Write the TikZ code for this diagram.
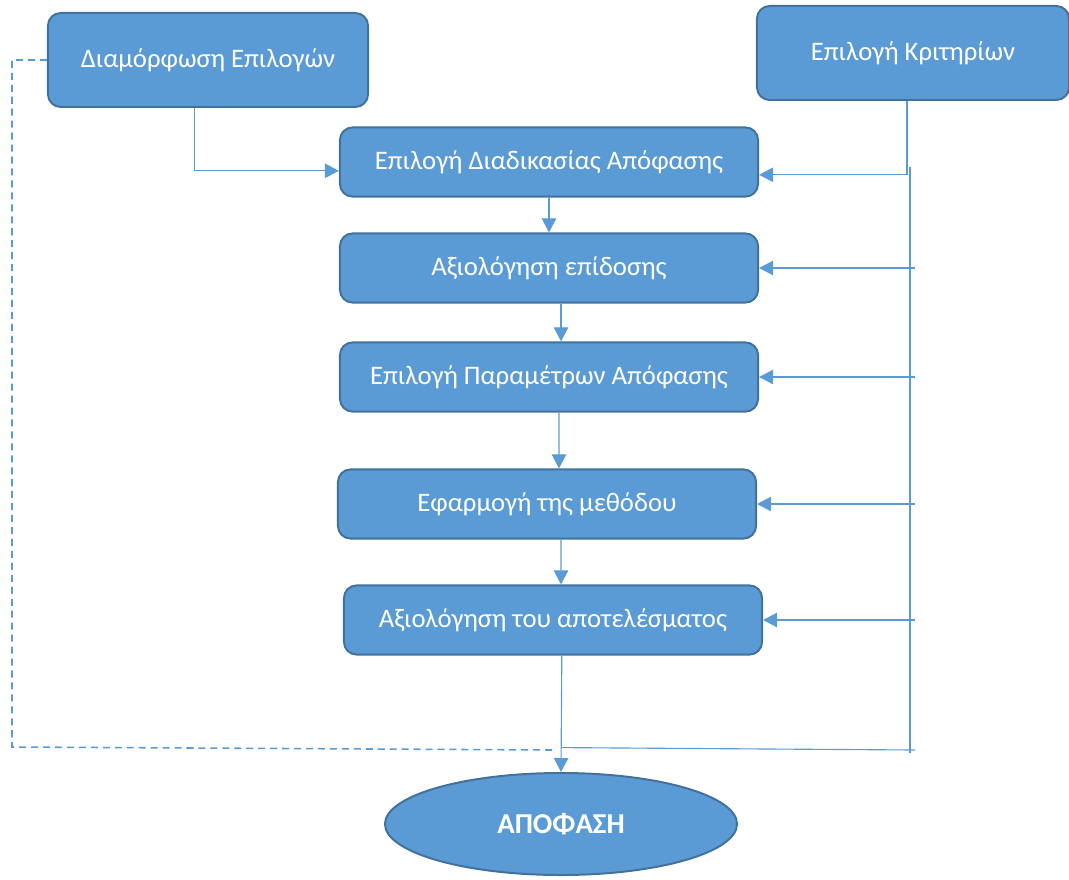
\documentclass[tikz,border=0pt]{standalone}
\usepackage{fontspec}
\setmainfont{Carlito}
\usetikzlibrary{arrows.meta,positioning,shapes.geometric}
\definecolor{office}{HTML}{5B9BD5}
\definecolor{officedark}{HTML}{41719C}
\tikzset{
  box/.style={draw=officedark,fill=office,line width=1.4pt,rounded corners=9pt,text=white,align=center,font=\fontsize{19}{23}\selectfont,inner sep=0pt},
  topbox/.style={box,minimum width=8cm,minimum height=2.35cm},
  procbox/.style={box,minimum width=10.45cm,minimum height=1.73cm},
  endnode/.style={ellipse,draw=officedark,fill=office,line width=1.4pt,text=white,minimum width=8.8cm,minimum height=2.55cm,inner sep=0pt,font=\fontsize{20.5}{24}\selectfont\bfseries},
  arrow/.style={-{Triangle[length=3.5mm,width=3.6mm]},line width=0.8pt,color=office},
  link/.style={line width=0.8pt,color=office},
  dashlink/.style={link,line width=1.1pt,dash pattern=on 5pt off 3.5pt},
}
\begin{document}
\begin{tikzpicture}[x=0.025cm,y=-0.025cm]
  \useasboundingbox (0,0) rectangle (1069,879);
  % top row
  \node[topbox] (dia) at (208,60) {Διαμόρφωση Επιλογών};
  \node[topbox,minimum width=7.8cm] (kri) at (913,53) {Επιλογή Κριτηρίων};
  % steps
  \node[procbox] (diad) at (549,162) {Επιλογή Διαδικασίας Απόφασης};
  \node[procbox] (axi) at (549,268) {Αξιολόγηση επίδοσης};
  \node[procbox] (par) at (549,377) {Επιλογή Παραμέτρων Απόφασης};
  \node[procbox] (efa) at (547,504) {Εφαρμογή της μεθόδου};
  \node[procbox] (res) at (553,620) {Αξιολόγηση του αποτελέσματος};
  \node[endnode] (apo) at (561,824) {ΑΠΟΦΑΣΗ};
  % bus on the right
  \coordinate (busTop) at (910,167);
  \coordinate (busBot) at (910,753);
  \coordinate (bus) at (915,0);
  \coordinate (bot) at (915,750);
  \coordinate (dl) at (12,747);
  \coordinate (dend) at (552,750);
  % connectors
  \draw[arrow] ([xshift=-0.33cm]dia.south) |- ([yshift=-0.22cm]diad.west);
  \draw[arrow] ([xshift=-0.15cm]kri.south) |- ([yshift=-0.32cm]diad.east);
  \draw[link] (busTop) -- (busBot);
  \draw[arrow] (bus |- axi.east) -- (axi.east);
  \draw[arrow] (bus |- par.east) -- (par.east);
  \draw[arrow] (bus |- efa.east) -- (efa.east);
  \draw[arrow] (bus |- res.east) -- (res.east);
  \draw[arrow] (diad) -- (axi);
  \draw[arrow] ([xshift=0.3cm]axi.south) -- ([xshift=0.3cm]par.north);
  \draw[arrow] ([xshift=0.25cm]par.south) -- ([xshift=0.3cm]efa.north);
  \draw[arrow] ([xshift=0.35cm]efa.south) -- ([xshift=0.2cm]res.north);
  \draw[arrow] ([xshift=0.22cm]res.south) -- (apo.north);
  \draw[link] (res.south -| apo.north) ++(0,92) -- (bot);
  \draw[dashlink] (dia.west) -| (dl) -- (dend);
\end{tikzpicture}
\end{document}
